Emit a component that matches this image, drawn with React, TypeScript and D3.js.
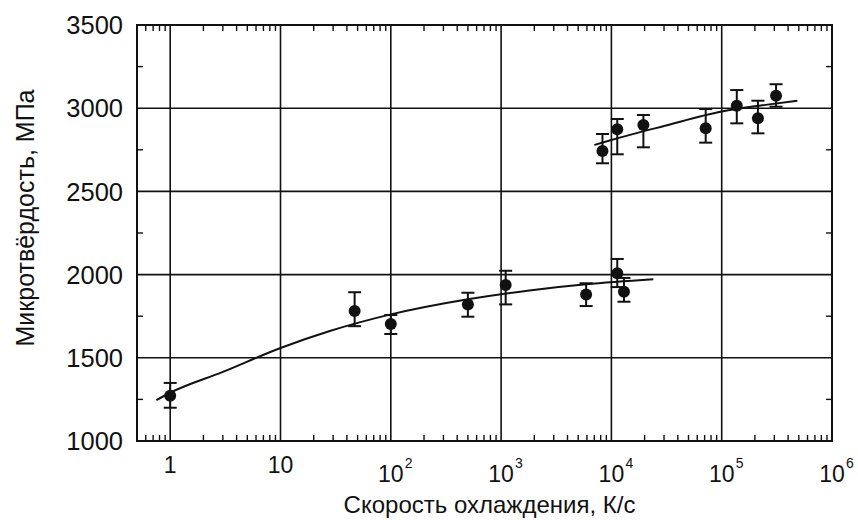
import * as d3 from "d3";

// lower branch (slow cooling)
const lowRate = [1, 47, 100, 500, 1100, 5900, 11300, 13000];
const lowHv = [1272, 1781, 1703, 1821, 1937, 1881, 2008, 1897];
const lowErrHi = [1349, 1894, 1757, 1891, 2023, 1948, 2094, 1980];
const lowErrLo = [1200, 1690, 1643, 1747, 1821, 1811, 1925, 1837];

// upper branch (rapid cooling)
const highRate = [8300, 11300, 19500, 71600, 137000, 213000, 311000];
const highHv = [2743, 2873, 2899, 2879, 3015, 2939, 3075];
const highErrHi = [2845, 2935, 2959, 2995, 3109, 3045, 3144];
const highErrLo = [2669, 2723, 2765, 2793, 2909, 2849, 3009];

// fitted curves
const lowFitRate = [0.75, 1, 3, 10, 28, 100, 500, 1800, 5900, 24000];
const lowFitHv = [1246, 1290, 1415, 1559, 1661, 1761, 1852, 1905, 1942, 1972];
const highFitRate = [7000, 10000, 30000, 100000, 250000, 485000];
const highFitHv = [2779, 2809, 2893, 2980, 3020, 3045];

const yTicks = [1000, 1500, 2000, 2500, 3000, 3500];
const yMinor = [1250, 1750, 2250, 2750, 3250];
const xDecades = [1, 10, 100, 1000, 10000, 100000, 1000000];
const xLabels = ["1", "10", "2", "3", "4", "5", "6"];

const W = 858;
const H = 520;
const margin = { top: 25, right: 26, bottom: 79, left: 137 };
const font = "'Liberation Sans', Arial, sans-serif";
const ink = "#111";

export default function App() {
  const x = d3
    .scaleLog()
    .domain([0.5, 1e6])
    .range([margin.left, W - margin.right]);
  const y = d3
    .scaleLinear()
    .domain([1000, 3500])
    .range([H - margin.bottom, margin.top]);

  const x0 = margin.left;
  const x1 = W - margin.right;
  const y0 = H - margin.bottom;
  const y1 = margin.top;

  // minor log ticks 2..9 in each decade, plus 0.6..0.9
  const xMinor: number[] = [];
  for (let e = -1; e < 6; e++) {
    for (let m = 2; m <= 9; m++) {
      const v = m * Math.pow(10, e);
      if (v > 0.5 && v < 1e6) xMinor.push(v);
    }
  }

  const line = d3
    .line<[number, number]>()
    .x((d) => x(d[0]))
    .y((d) => y(d[1]))
    .curve(d3.curveMonotoneX);

  const lowFit = line(lowFitRate.map((r, i) => [r, lowFitHv[i]]));
  const highFit = line(highFitRate.map((r, i) => [r, highFitHv[i]]));

  const series = [
    { rate: lowRate, hv: lowHv, hi: lowErrHi, lo: lowErrLo },
    { rate: highRate, hv: highHv, hi: highErrHi, lo: highErrLo },
  ];
  const cap = 6.5;
  const tick = 6;

  return (
    <svg
      width={W}
      height={H}
      style={{ position: "absolute", left: 0, top: 0, background: "#fff" }}
      fontFamily={font}
    >
      {/* grid */}
      {yTicks.slice(1, -1).map((v) => (
        <line key={"gy" + v} x1={x0} x2={x1} y1={y(v)} y2={y(v)} stroke={ink} strokeWidth={1.6} />
      ))}
      {xDecades.slice(0, -1).map((v) => (
        <line key={"gx" + v} x1={x(v)} x2={x(v)} y1={y0} y2={y1} stroke={ink} strokeWidth={1.6} />
      ))}

      {/* minor ticks */}
      {xMinor.map((v) => (
        <g key={"mx" + v} stroke={ink} strokeWidth={1.4}>
          <line x1={x(v)} x2={x(v)} y1={y0} y2={y0 - tick} />
          <line x1={x(v)} x2={x(v)} y1={y1} y2={y1 + tick} />
        </g>
      ))}
      {yMinor.map((v) => (
        <g key={"my" + v} stroke={ink} strokeWidth={1.4}>
          <line x1={x0} x2={x0 + tick} y1={y(v)} y2={y(v)} />
          <line x1={x1} x2={x1 - tick} y1={y(v)} y2={y(v)} />
        </g>
      ))}

      {/* frame */}
      <rect x={x0} y={y1} width={x1 - x0} height={y0 - y1} fill="none" stroke={ink} strokeWidth={2} />

      {/* fit curves */}
      <path d={lowFit || ""} fill="none" stroke={ink} strokeWidth={2} />
      <path d={highFit || ""} fill="none" stroke={ink} strokeWidth={2} />

      {/* points with error bars */}
      {series.map((s, si) =>
        s.rate.map((r, i) => (
          <g key={"p" + si + "-" + i} stroke={ink} strokeWidth={2}>
            <line x1={x(r)} x2={x(r)} y1={y(s.lo[i])} y2={y(s.hi[i])} />
            <line x1={x(r) - cap} x2={x(r) + cap} y1={y(s.lo[i])} y2={y(s.lo[i])} />
            <line x1={x(r) - cap} x2={x(r) + cap} y1={y(s.hi[i])} y2={y(s.hi[i])} />
            <circle cx={x(r)} cy={y(s.hv[i])} r={6} fill={ink} stroke="none" />
          </g>
        ))
      )}

      {/* y tick labels */}
      {yTicks.map((v) => (
        <text
          key={"ly" + v}
          x={x0 - 14}
          y={y(v)}
          dy="0.36em"
          textAnchor="end"
          fontSize={25.5}
          fill={ink}
        >
          {v}
        </text>
      ))}

      {/* x tick labels */}
      {xDecades.map((v, i) =>
        i < 2 ? (
          <text key={"lx" + v} x={x(v)} y={473} textAnchor="middle" fontSize={23} fill={ink}>
            {xLabels[i]}
          </text>
        ) : (
          <g key={"lx" + v} fill={ink}>
            <text x={x(v)} y={482} textAnchor="middle" fontSize={23}>
              10
            </text>
            <text x={x(v) + 14} y={468} textAnchor="start" fontSize={14}>
              {xLabels[i]}
            </text>
          </g>
        )
      )}

      {/* axis titles */}
      <text x={(x0 + x1) / 2 + 5} y={513} textAnchor="middle" fontSize={24} fill={ink}>
        Скорость охлаждения, К/с
      </text>
      <text
        transform={`translate(34, 218) rotate(-90)`}
        textAnchor="middle"
        fontSize={25}
        fill={ink}
      >
        Микротвёрдость, МПа
      </text>
    </svg>
  );
}
